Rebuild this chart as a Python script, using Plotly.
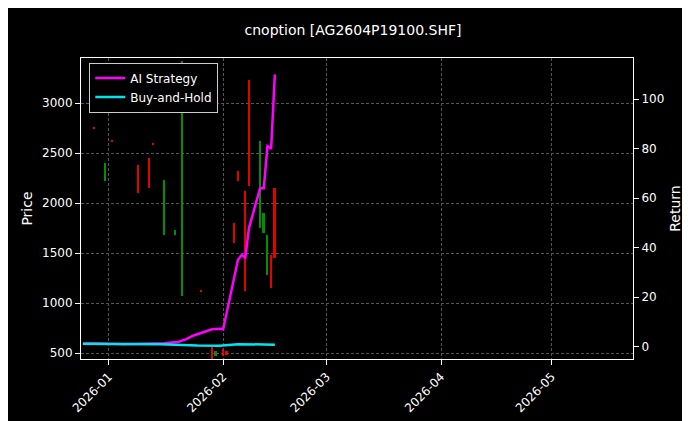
import plotly.graph_objects as go
import pandas as pd

c_dates = ["2025-12-28","2025-12-31","2026-01-02","2026-01-09","2026-01-12","2026-01-13","2026-01-16","2026-01-19","2026-01-21","2026-01-26","2026-01-29","2026-01-30","2026-02-01","2026-02-02","2026-02-04","2026-02-05","2026-02-07","2026-02-08","2026-02-11","2026-02-12","2026-02-13","2026-02-14","2026-02-15"]
c_open  = [2760, 2220, 2630, 2380, 2450, 2600, 1680, 1680, 1070, 1130, 560, 470, 540, 520, 1800, 2320, 2120, 3230, 1750, 1700, 1280, 1480, 2150]
c_close = [2740, 2400, 2610, 2100, 2150, 2580, 2230, 1730, 3420, 1110, 420, 520, 470, 480, 1600, 2220, 1120, 2170, 2620, 1900, 1680, 1150, 1450]

s_dates = ["2025-12-25","2025-12-28","2026-01-05","2026-01-12","2026-01-16","2026-01-20","2026-01-22","2026-01-24","2026-01-27","2026-01-29","2026-01-31","2026-02-01","2026-02-05","2026-02-06","2026-02-07","2026-02-08","2026-02-11","2026-02-12","2026-02-13","2026-02-14","2026-02-15"]
s_vals  = [1.2, 1.3, 1.0, 1.2, 1.4, 2.0, 3.0, 4.5, 6.0, 7.0, 7.2, 7.0, 35, 37, 36, 48, 64, 64, 81, 80, 110]

b_dates = ["2025-12-25","2026-01-05","2026-01-15","2026-01-25","2026-01-31","2026-02-05","2026-02-10","2026-02-15"]
b_vals  = [1.2, 1.0, 1.0, 0.5, 0.4, 1.0, 0.8, 0.8]

delta = [c - o for o, c in zip(c_open, c_close)]
colors = ["#00a000" if c >= o else "#ff0000" for o, c in zip(c_open, c_close)]

fig = go.Figure()
fig.add_trace(go.Bar(x=pd.to_datetime(c_dates), y=delta, base=c_open, marker_color=colors,
                     marker_line_width=0, width=0.5*86400000, showlegend=False, opacity=0.9))
fig.add_trace(go.Scatter(x=pd.to_datetime(s_dates), y=s_vals, mode="lines", name="AI Strategy",
                         line=dict(color="#ff00ff", width=2.5), yaxis="y2"))
fig.add_trace(go.Scatter(x=pd.to_datetime(b_dates), y=b_vals, mode="lines", name="Buy-and-Hold",
                         line=dict(color="#00e5ee", width=2.5), yaxis="y2"))

grid = dict(showgrid=True, gridcolor="#555555", griddash="3px,2px", gridwidth=0.5)
fig.update_layout(
    width=690, height=421, paper_bgcolor="black", plot_bgcolor="black",
    font=dict(family="DejaVu Sans", color="white", size=12),
    title=dict(text="cnoption [AG2604P19100.SHF]", x=0.5, y=0.96, xanchor="center", font=dict(size=14)),
    margin=dict(l=73, r=65, t=50, b=70, autoexpand=False),
    xaxis=dict(range=["2025-12-24 12:00", "2026-05-23"], tickangle=-45, tickformat="%Y-%m",
               dtick="M1", tick0="2026-01-01", showline=True, linecolor="white", mirror=True,
               ticks="outside", tickcolor="white", zeroline=False, automargin=False, **grid),
    yaxis=dict(title=dict(text="Price", standoff=6), range=[440, 3450], tickvals=[500,1000,1500,2000,2500,3000],
               showline=True, linecolor="white", ticks="outside", tickcolor="white", zeroline=False,
               automargin=False, **grid),
    yaxis2=dict(title=dict(text="Return", standoff=6), overlaying="y", side="right", range=[-5, 116.6],
                tickvals=[0,20,40,60,80,100], showgrid=False, zeroline=False, automargin=False,
                showline=True, linecolor="white", ticks="outside", tickcolor="white"),
    legend=dict(x=0.015, y=0.985, xanchor="left", yanchor="top", bgcolor="black",
                bordercolor="#cccccc", borderwidth=1, font=dict(size=12)),
    bargap=0,
)
fig.write_html("out.html")
